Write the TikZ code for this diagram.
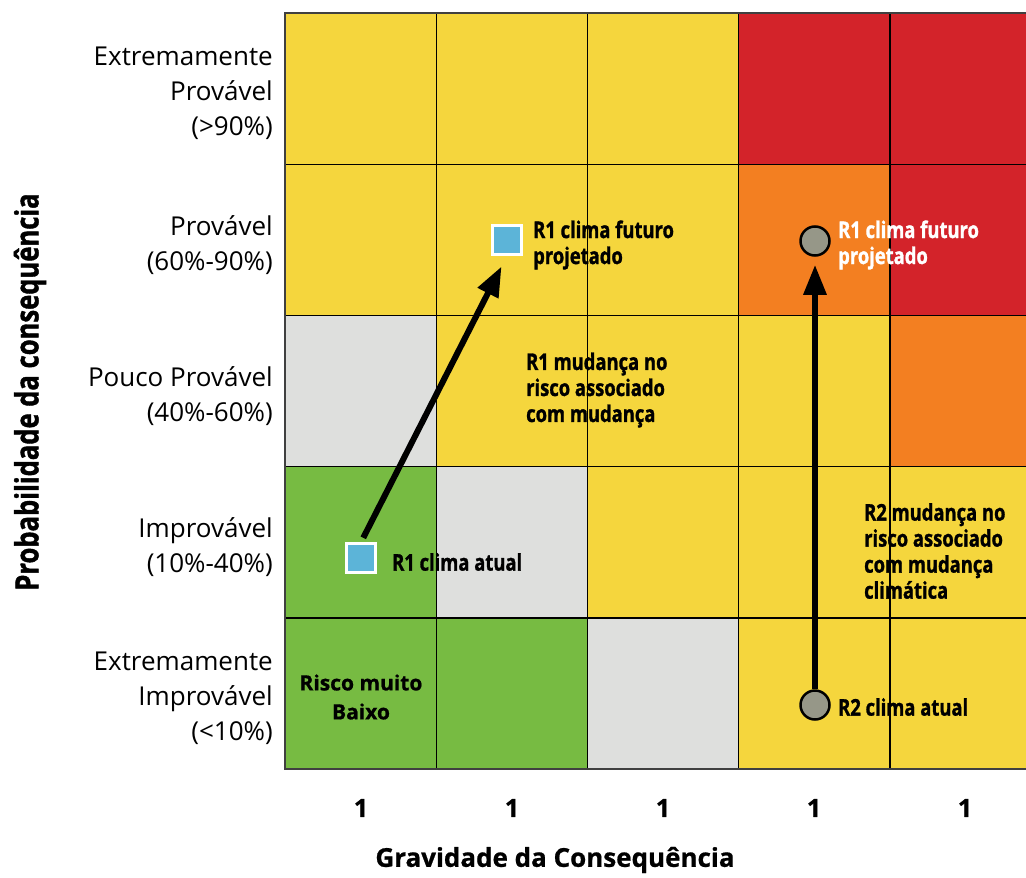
\documentclass[tikz,border=0pt]{standalone}
\usepackage{fontspec}
\setmainfont{Open Sans}[BoldFeatures={FakeBold=0.8}]
\newfontfamily\condfont{Open Sans}[FakeStretch=0.8, BoldFeatures={FakeBold=1.2}]
\usetikzlibrary{arrows.meta}

\definecolor{cyellow}{RGB}{245,214,61}
\definecolor{cred}{RGB}{211,35,42}
\definecolor{corange}{RGB}{243,127,33}
\definecolor{cgrey}{RGB}{222,223,221}
\definecolor{cgreen}{RGB}{119,187,66}
\definecolor{cblue}{RGB}{92,180,216}
\definecolor{cdot}{RGB}{150,151,136}

\begin{document}
\begin{tikzpicture}[x={(1pt, 0pt)}, y={(0pt, -1pt)}]
  \tikzstyle{rowlabel}=[anchor=east, align=right, inner sep=0pt, font=\fontsize{26}{35}\selectfont]
  \tikzstyle{tag}=[anchor=west, align=left, inner sep=0pt, font=\condfont\bfseries\fontsize{23}{26}\selectfont]
  \tikzstyle{tick}=[font=\bfseries\fontsize{25}{30}\selectfont]
  \tikzstyle{square}=[draw=white, fill=cblue, line width=2.5pt, minimum size=29pt, inner sep=0pt]
  \tikzstyle{dot}=[circle, draw=black, fill=cdot, line width=2.5pt, minimum size=29pt, inner sep=0pt]
  \tikzstyle{move}=[line width=6pt, -{Triangle[length=30pt, width=22pt]}]

\clip (0, 0) rectangle (1026, 878);

% cells (yellow underneath, others on top)
\fill[cyellow] (285, 13) rectangle (1041, 769);
\fill[cred] (738.6, 13) rectangle (1041, 164.2);
\fill[cred] (889.8, 164.2) rectangle (1041, 315.4);
\fill[corange] (738.6, 164.2) rectangle (889.8, 315.4);
\fill[corange] (889.8, 315.4) rectangle (1041, 466.6);
\fill[cgrey] (285, 315.4) rectangle (436.2, 466.6);
\fill[cgrey] (436.2, 466.6) rectangle (587.4, 617.8);
\fill[cgrey] (587.4, 617.8) rectangle (738.6, 769);
\fill[cgreen] (285, 466.6) rectangle (436.2, 769);
\fill[cgreen] (436.2, 617.8) rectangle (587.4, 769);

% grid
\draw[line width=1.4pt] (436.2, 13) -- (436.2, 769);
\draw[line width=1.4pt] (587.4, 13) -- (587.4, 769);
\draw[line width=1.4pt] (738.6, 13) -- (738.6, 769);
\draw[line width=1.4pt] (889.8, 13) -- (889.8, 769);
\draw[line width=1.4pt] (285, 164.2) -- (1041, 164.2);
\draw[line width=1.4pt] (285, 315.4) -- (1041, 315.4);
\draw[line width=1.4pt] (285, 466.6) -- (1041, 466.6);
\draw[line width=1.4pt] (285, 617.8) -- (1041, 617.8);
\draw[line width=1.6pt, black!75] (285, 13) rectangle (1041, 769);

% probability levels
\node[rowlabel] (p5) at (273, 93) {Extremamente\\Provável\\(>90\%)};
\node[rowlabel] (p4) at (273, 245) {Provável\\(60\%-90\%)};
\node[rowlabel] (p3) at (273, 396) {Pouco Provável\\(40\%-60\%)};
\node[rowlabel] (p2) at (273, 547) {Improvável\\(10\%-40\%)};
\node[rowlabel] (p1) at (273, 698) {Extremamente\\Improvável\\(<10\%)};

\node[rotate=90, font=\condfont\bfseries\fontsize{32}{36}\selectfont] (ytitle) at (30, 392) {Probabilidade da consequência};

% severity levels
\node[tick] (g1) at (361, 808) {1};
\node[tick] (g2) at (512, 808) {1};
\node[tick] (g3) at (663, 808) {1};
\node[tick] (g4) at (814, 808) {1};
\node[tick] (g5) at (965, 808) {1};

\node[font=\bfseries\fontsize{26}{30}\selectfont] (xtitle) at (555, 860) {Gravidade da Consequência};

% risks
\node[square] (r1a) at (361, 558) {};
\node[square] (r1f) at (507, 240) {};
\node[dot] (r2a) at (815, 705) {};
\node[dot] (r2f) at (815, 241) {};

\draw[move, shorten <=5pt, shorten >=12pt] (r1a.north) -- (r1f.south);
\draw[move, shorten >=8pt] (r2a.north) -- (r2f.south);

\node[tag] (t1f) at (533, 245) {R1 clima futuro\\projetado};
\node[tag, text=white] (t2f) at (838, 245) {R1 clima futuro\\projetado};
\node[tag] (t1d) at (526, 390) {R1 mudança no\\risco associado\\com mudança};
\node[tag] (t1a) at (392, 562) {R1 clima atual};
\node[tag] (t2d) at (864, 551) {R2 mudança no\\risco associado\\com mudança\\climática};
\node[tag] (t2a) at (838, 707) {R2 clima atual};

\node[align=center, font=\bfseries\fontsize{21}{29}\selectfont] (low) at (361, 697) {Risco muito\\Baixo};

\end{tikzpicture}
\end{document}
